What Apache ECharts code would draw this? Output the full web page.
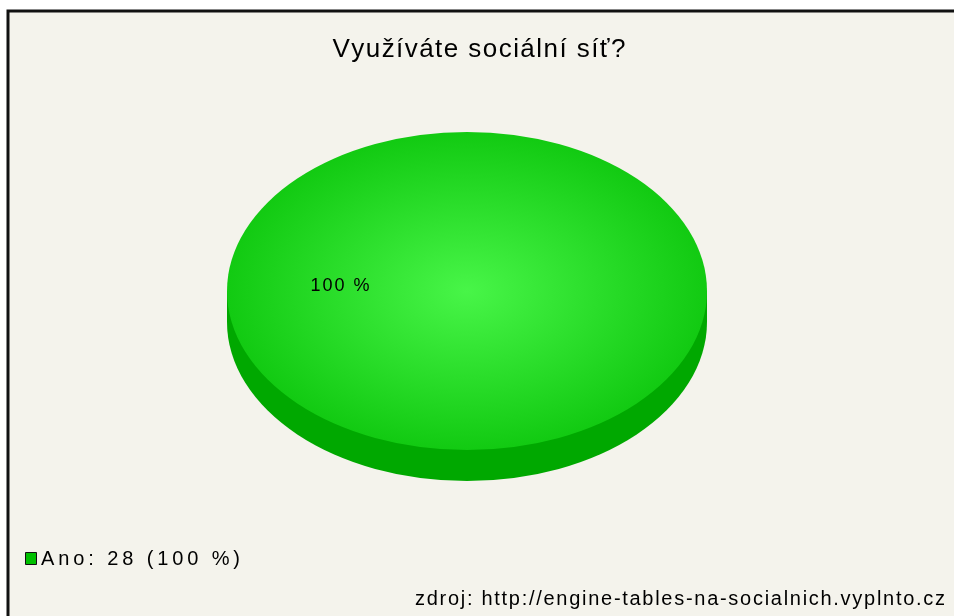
<!DOCTYPE html>
<html>
<head>
<meta charset="utf-8">
<script src="https://cdn.jsdelivr.net/npm/echarts@6/dist/echarts.min.js"></script>
<style>
  html, body { margin: 0; padding: 0; background: #ffffff; }
  #chart { position: absolute; left: 0; top: 0; width: 954px; height: 616px; }
</style>
</head>
<body>
<div id="chart"></div>
<script>
// Survey answers and counts
const categories = ['Ano'];
const counts = [28];
const titleText = 'Využíváte sociální síť?';
const sourceText = 'zdroj: http://engine-tables-na-socialnich.vyplnto.cz';

const total = counts.reduce((a, b) => a + b, 0);
const percents = counts.map(v => Math.round(v / total * 100));

// Palette: top face edge, highlight, side wall, legend swatch
const faceColors = ['#12ca12'];
const glowColors = ['#48f548'];
const wallColors = ['#00a800'];
const swatchColors = ['#00c000'];

// Geometry of the tilted pie
const CX = 467, CY = 291, RX = 240, RY = 159, DEPTH = 31;
const FONT = '"Liberation Sans", Arial, sans-serif';

// Spread characters out with rich-text padding so a string fills a given width
const measureCtx = document.createElement('canvas').getContext('2d');
function spaced(str, size, color, width) {
  measureCtx.font = size + 'px ' + FONT;
  const natural = measureCtx.measureText(str).width;
  const gap = Math.max(0, (width - natural) / Math.max(1, str.length - 1));
  const chars = Array.from(str);
  const text = chars.map((ch, k) => (k === chars.length - 1 ? '{e|' : '{c|') + ch + '}').join('');
  const base = { fontSize: size, fontFamily: FONT, color: color };
  return {
    text: text,
    rich: {
      c: Object.assign({ padding: [0, gap, 0, 0] }, base),
      e: Object.assign({}, base)
    }
  };
}

const chart = echarts.init(document.getElementById('chart'), null, { renderer: 'canvas' });

// Start angles of each slice (clockwise from 12 o'clock)
const startAngles = [];
(function () {
  let acc = 0;
  counts.forEach(v => { startAngles.push(acc); acc += v / total * Math.PI * 2; });
})();

function makeRender(i) {
  return function (params, api) {
    const v = api.value(1);
    const a0 = startAngles[i] - Math.PI / 2;
    const a1 = a0 + v / total * Math.PI * 2;
    const sy = RY / RX;
    const midA = (a0 + a1) / 2;
    const full = v === total;
    const lx = full ? CX - 127 : CX + Math.cos(midA) * RX * 0.6;
    const ly = full ? CY - 5 : CY + Math.sin(midA) * RY * 0.6;
    const lbl = spaced(percents[i] + ' %', 18, '#111111', 59);
    return {
      type: 'group',
      children: [
        // side wall
        {
          type: 'sector',
          x: CX, y: CY + DEPTH, scaleY: sy,
          shape: { cx: 0, cy: 0, r: RX, startAngle: a0, endAngle: a1 },
          style: { fill: wallColors[i] }
        },
        {
          type: 'rect',
          shape: { x: CX - RX, y: CY, width: RX * 2, height: DEPTH },
          style: { fill: wallColors[i] },
          invisible: !full
        },
        // top face
        {
          type: 'sector',
          x: CX, y: CY, scaleY: sy,
          shape: { cx: 0, cy: 0, r: RX, startAngle: a0, endAngle: a1 },
          style: {
            fill: {
              type: 'radial', x: 0.5, y: 0.5, r: 0.5, global: false,
              colorStops: [
                { offset: 0, color: glowColors[i] },
                { offset: 1, color: faceColors[i] }
              ]
            }
          }
        },
        {
          type: 'text',
          x: lx, y: ly,
          style: {
            text: lbl.text, rich: lbl.rich,
            align: 'center', verticalAlign: 'middle'
          }
        }
      ]
    };
  };
}

const title = spaced(titleText, 26, '#222222', 292);
const source = spaced(sourceText, 20, '#8a8a8a', 530);
const legendLabel = i => categories[i] + ': ' + counts[i] + ' (' + percents[i] + ' %)';

// Legend rows: swatch plus spaced label
const legendItems = [];
categories.forEach((c, i) => {
  const y = 559 + i * 26;
  const s = spaced(legendLabel(i), 20, '#222222', 199);
  legendItems.push({
    type: 'rect', z: 10,
    shape: { x: 25.5, y: y - 6.5, width: 11, height: 12 },
    style: { fill: swatchColors[i], stroke: '#111111', lineWidth: 1 }
  });
  legendItems.push({
    type: 'text', z: 10,
    x: 41, y: y,
    style: { text: s.text, rich: s.rich, align: 'left', verticalAlign: 'middle' }
  });
});

chart.setOption({
  backgroundColor: '#ffffff',
  animation: false,
  graphic: [
    {
      type: 'rect', z: -10,
      shape: { x: 8, y: 11, width: 960, height: 620 },
      style: { fill: '#f4f3ec', stroke: '#111111', lineWidth: 3 }
    },
    {
      type: 'text', z: 10,
      x: 479, y: 50,
      style: { text: title.text, rich: title.rich, align: 'center', verticalAlign: 'middle' }
    },
    {
      type: 'text', z: 10,
      x: 945, y: 599,
      style: { text: source.text, rich: source.rich, align: 'right', verticalAlign: 'middle' }
    }
  ].concat(legendItems),
  series: categories.map((c, i) => ({
    type: 'custom',
    name: c,
    coordinateSystem: 'none',
    itemStyle: { color: swatchColors[i] },
    renderItem: makeRender(i),
    data: [{ name: c, value: [i, counts[i]] }]
  }))
});
</script>
</body>
</html>
